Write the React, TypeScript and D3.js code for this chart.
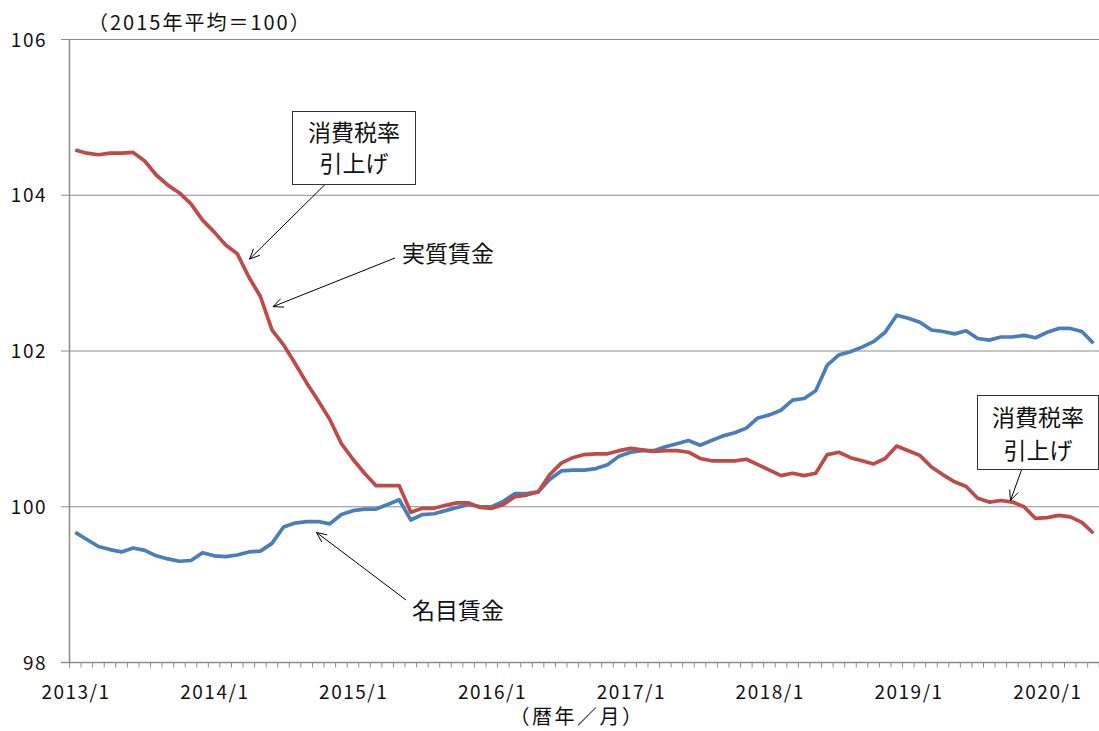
import React from "react";
import * as d3 from "d3";

// ---- data (monthly, 2013/1 – 2020/5) ----
const realWage: number[] = [
  104.58, 104.54, 104.52, 104.54, 104.54, 104.55, 104.44, 104.26, 104.13, 104.03, 103.89, 103.68,
  103.53, 103.36, 103.25, 102.95, 102.70, 102.27, 102.08, 101.84, 101.59, 101.36, 101.12, 100.81,
  100.61, 100.43, 100.27, 100.27, 100.27, 99.93, 99.98, 99.98, 100.02, 100.05, 100.05, 99.99,
  99.98, 100.03, 100.13, 100.15, 100.19, 100.41, 100.56, 100.63, 100.67, 100.68, 100.68, 100.72,
  100.75, 100.73, 100.71, 100.72, 100.72, 100.70, 100.62, 100.59, 100.59, 100.59, 100.61, 100.54,
  100.47, 100.40, 100.43, 100.40, 100.43, 100.67, 100.70, 100.63, 100.59, 100.55, 100.62, 100.78,
  100.72, 100.66, 100.51, 100.41, 100.32, 100.26, 100.11, 100.06, 100.08, 100.06, 100.00, 99.85,
  99.86, 99.89, 99.87, 99.80, 99.66,
];
const nominalWage: number[] = [
  99.67, 99.58, 99.49, 99.45, 99.42, 99.47, 99.44, 99.37, 99.33, 99.30, 99.31, 99.41,
  99.37, 99.36, 99.38, 99.42, 99.43, 99.53, 99.74, 99.79, 99.81, 99.81, 99.78, 99.90,
  99.95, 99.97, 99.97, 100.03, 100.09, 99.83, 99.90, 99.91, 99.95, 99.99, 100.03, 100.00,
  100.00, 100.07, 100.17, 100.17, 100.19, 100.35, 100.46, 100.47, 100.47, 100.49, 100.54, 100.65,
  100.70, 100.72, 100.72, 100.77, 100.81, 100.85, 100.79, 100.85, 100.91, 100.95, 101.01, 101.14,
  101.18, 101.24, 101.37, 101.39, 101.49, 101.82, 101.95, 101.99, 102.05, 102.12, 102.24, 102.46,
  102.42, 102.37, 102.27, 102.25, 102.22, 102.26, 102.16, 102.14, 102.18, 102.18, 102.20, 102.17,
  102.24, 102.29, 102.29, 102.25, 102.10,
];
const xTickLabels: string[] = ["2013/1", "2014/1", "2015/1", "2016/1", "2017/1", "2018/1", "2019/1", "2020/1"];
const xTickIndex: number[] = [0, 12, 24, 36, 48, 60, 72, 84];
const yTicks: number[] = [98, 100, 102, 104, 106];

const W = 1099;
const H = 731;
const left = 69.5;
const right = 1099.2;
const top = 39.5;
const bottom = 662.5;
const FONT = "'Noto Sans CJK JP', 'Noto Sans', sans-serif";
const RED = "#BE4B48";
const BLUE = "#4A7EBB";
const GRID = "#8C8C8C";

export default function App() {
  const n = realWage.length;
  const x = d3.scaleLinear().domain([-0.5, n - 0.5]).range([left, right]);
  const y = d3.scaleLinear().domain([98, 106]).range([bottom, top]);
  const line = d3
    .line<number>()
    .x((_, i) => x(i))
    .y((d) => y(d));

  const boundaries = d3.range(0, n + 1).map((k) => x(k - 0.5));

  const arrowHead = (x1: number, y1: number, x2: number, y2: number) => {
    const a = Math.atan2(y2 - y1, x2 - x1);
    const L = 11;
    const s = 0.42;
    const p1 = [x2 - L * Math.cos(a - s), y2 - L * Math.sin(a - s)];
    const p2 = [x2 - L * Math.cos(a + s), y2 - L * Math.sin(a + s)];
    return `M${p1[0]},${p1[1]}L${x2},${y2}L${p2[0]},${p2[1]}`;
  };

  // annotation arrows: from (fx,fy) to tip at (index, value)
  const arrows = [
    { fx: 325, fy: 184.5, ti: 15.06, tv: 103.18 },
    { fx: 395, fy: 258, ti: 17.09, tv: 102.57 },
    { fx: 406, fy: 600, ti: 20.85, tv: 99.67 },
    { fx: 1021.7, fy: 469.5, ti: 80.83, tv: 100.08 },
  ];

  return (
    <svg
      width={W}
      height={H}
      style={{ position: "absolute", left: 0, top: 0, background: "#fff" }}
      fontFamily={FONT}
    >
      {/* gridlines */}
      {yTicks.map((t) => (
        <line key={t} x1={61} x2={right} y1={y(t)} y2={y(t)} stroke={GRID} strokeWidth={1} />
      ))}
      {/* y axis */}
      <line x1={left} x2={left} y1={top} y2={bottom} stroke={GRID} strokeWidth={1.5} />
      {/* x axis ticks */}
      {boundaries.map((bx, k) => (
        <line key={k} x1={bx} x2={bx} y1={bottom} y2={bottom + 5} stroke={GRID} strokeWidth={1} />
      ))}
      <line x1={61} x2={right} y1={bottom} y2={bottom} stroke={GRID} strokeWidth={1.5} />

      {/* y tick labels */}
      {yTicks.map((t) => (
        <text key={t} x={47} y={y(t) + 7} textAnchor="end" fontSize={19} fill="#111" letterSpacing={1.5}>
          {t}
        </text>
      ))}
      {/* x tick labels */}
      {xTickIndex.map((idx, k) => (
        <text key={k} x={x(idx) + 0.75} y={698.5} textAnchor="middle" fontSize={19} fill="#111" letterSpacing={1.5}>
          {xTickLabels[k]}
        </text>
      ))}

      {/* titles */}
      <text x={88} y={30} fontSize={20} fill="#111" letterSpacing={2}>（2015年平均＝100）</text>
      <text x={577} y={724} textAnchor="middle" fontSize={20} fill="#111" letterSpacing={2.5}>（暦年／月）</text>

      {/* lines */}
      <path d={line(nominalWage) || ""} fill="none" stroke={BLUE} strokeWidth={3.7} strokeLinejoin="round" />
      <path d={line(realWage) || ""} fill="none" stroke={RED} strokeWidth={3.7} strokeLinejoin="round" />

      {/* annotation arrows */}
      {arrows.map((a, k) => {
        const tx = x(a.ti);
        const ty = y(a.tv);
        return (
          <g key={k} stroke="#000" strokeWidth={1} fill="none">
            <line x1={a.fx} y1={a.fy} x2={tx} y2={ty} />
            <path d={arrowHead(a.fx, a.fy, tx, ty)} />
          </g>
        );
      })}

      {/* boxes */}
      <rect x={292.5} y={111.5} width={123} height={73} fill="#fff" stroke="#333" strokeWidth={1} />
      <text x={354} y={141} textAnchor="middle" fontSize={23} fill="#111">消費税率</text>
      <text x={354} y={172} textAnchor="middle" fontSize={23} fill="#111">引上げ</text>

      <rect x={977.5} y={395.5} width={121} height={74} fill="#fff" stroke="#333" strokeWidth={1} />
      <text x={1038} y={426} textAnchor="middle" fontSize={23} fill="#111">消費税率</text>
      <text x={1038} y={459} textAnchor="middle" fontSize={23} fill="#111">引上げ</text>

      <text x={402} y={262} fontSize={23} fill="#111">実質賃金</text>
      <text x={412} y={619} fontSize={23} fill="#111">名目賃金</text>
    </svg>
  );
}
